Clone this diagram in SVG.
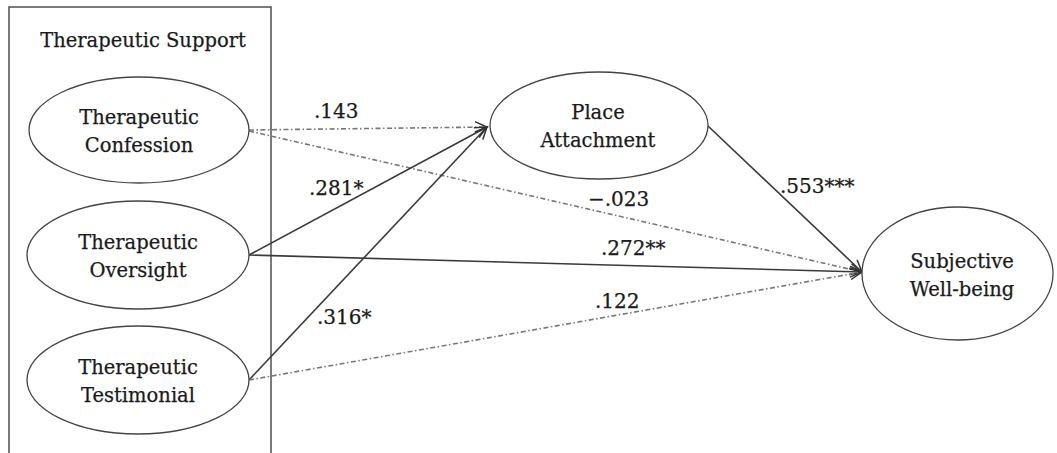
<svg xmlns="http://www.w3.org/2000/svg" width="1057" height="453" viewBox="0 0 1057 453">
<style>
text{font-family:"DejaVu Serif","Liberation Serif",serif;font-size:19.5px;fill:#1a1a1a;stroke:#1a1a1a;stroke-width:0.25;text-anchor:middle}
.lbl{text-anchor:start;font-size:20px}
ellipse{fill:#fff;stroke:#444;stroke-width:1.3}
.solid{stroke:#3a3a3a;stroke-width:1.6;fill:none}
.dash{stroke:#777;stroke-width:1.6;fill:none;stroke-dasharray:5 2.5 1.5 2.5}
</style>
<defs>
<marker id="arr" markerUnits="userSpaceOnUse" markerWidth="16" markerHeight="14" refX="13" refY="6" orient="auto" overflow="visible">
<path d="M1,0.5 L13,6 L1,11.5" fill="none" stroke="#333" stroke-width="1.5"/>
</marker>
</defs>
<rect x="9" y="7" width="262" height="450" fill="#fff" stroke="#444" stroke-width="1.4"/>
<text x="143" y="47">Therapeutic Support</text>
<g id="connectors">
<line class="dash" x1="249" y1="130" x2="487" y2="127" marker-end="url(#arr)"/>
<line class="dash" x1="249" y1="131" x2="862" y2="272" marker-end="url(#arr)"/>
<line class="solid" x1="249" y1="255" x2="487" y2="127" marker-end="url(#arr)"/>
<line class="solid" x1="249" y1="255" x2="862" y2="272" marker-end="url(#arr)"/>
<line class="solid" x1="249" y1="380" x2="487" y2="127" marker-end="url(#arr)"/>
<line class="dash" x1="249" y1="380" x2="862" y2="272" marker-end="url(#arr)"/>
<line class="solid" x1="708" y1="126" x2="862" y2="272" marker-end="url(#arr)"/>
<text class="lbl" x="314" y="118">.143</text>
<text class="lbl" x="309" y="195">.281*</text>
<text class="lbl" x="317" y="324">.316*</text>
<text class="lbl" x="588" y="206">−.023</text>
<text class="lbl" x="601" y="255">.272**</text>
<text class="lbl" x="595" y="308">.122</text>
<text class="lbl" x="780" y="193">.553***</text>
</g>
<g id="confession">
<ellipse cx="139" cy="130" rx="110" ry="53"/>
<text x="139" y="124">Therapeutic</text>
<text x="139" y="152">Confession</text>
</g>
<g id="oversight">
<ellipse cx="138" cy="255" rx="111" ry="54"/>
<text x="138" y="249">Therapeutic</text>
<text x="138" y="277">Oversight</text>
</g>
<g id="testimonial">
<ellipse cx="138" cy="380" rx="111" ry="54"/>
<text x="138" y="374">Therapeutic</text>
<text x="138" y="402">Testimonial</text>
</g>
<g id="place">
<ellipse cx="599" cy="125.5" rx="109" ry="53.5"/>
<text x="598" y="119">Place</text>
<text x="598" y="147">Attachment</text>
</g>
<g id="swb">
<ellipse cx="957.5" cy="273.5" rx="95.5" ry="66.5"/>
<text x="962" y="268">Subjective</text>
<text x="962" y="296">Well-being</text>
</g>
</svg>
